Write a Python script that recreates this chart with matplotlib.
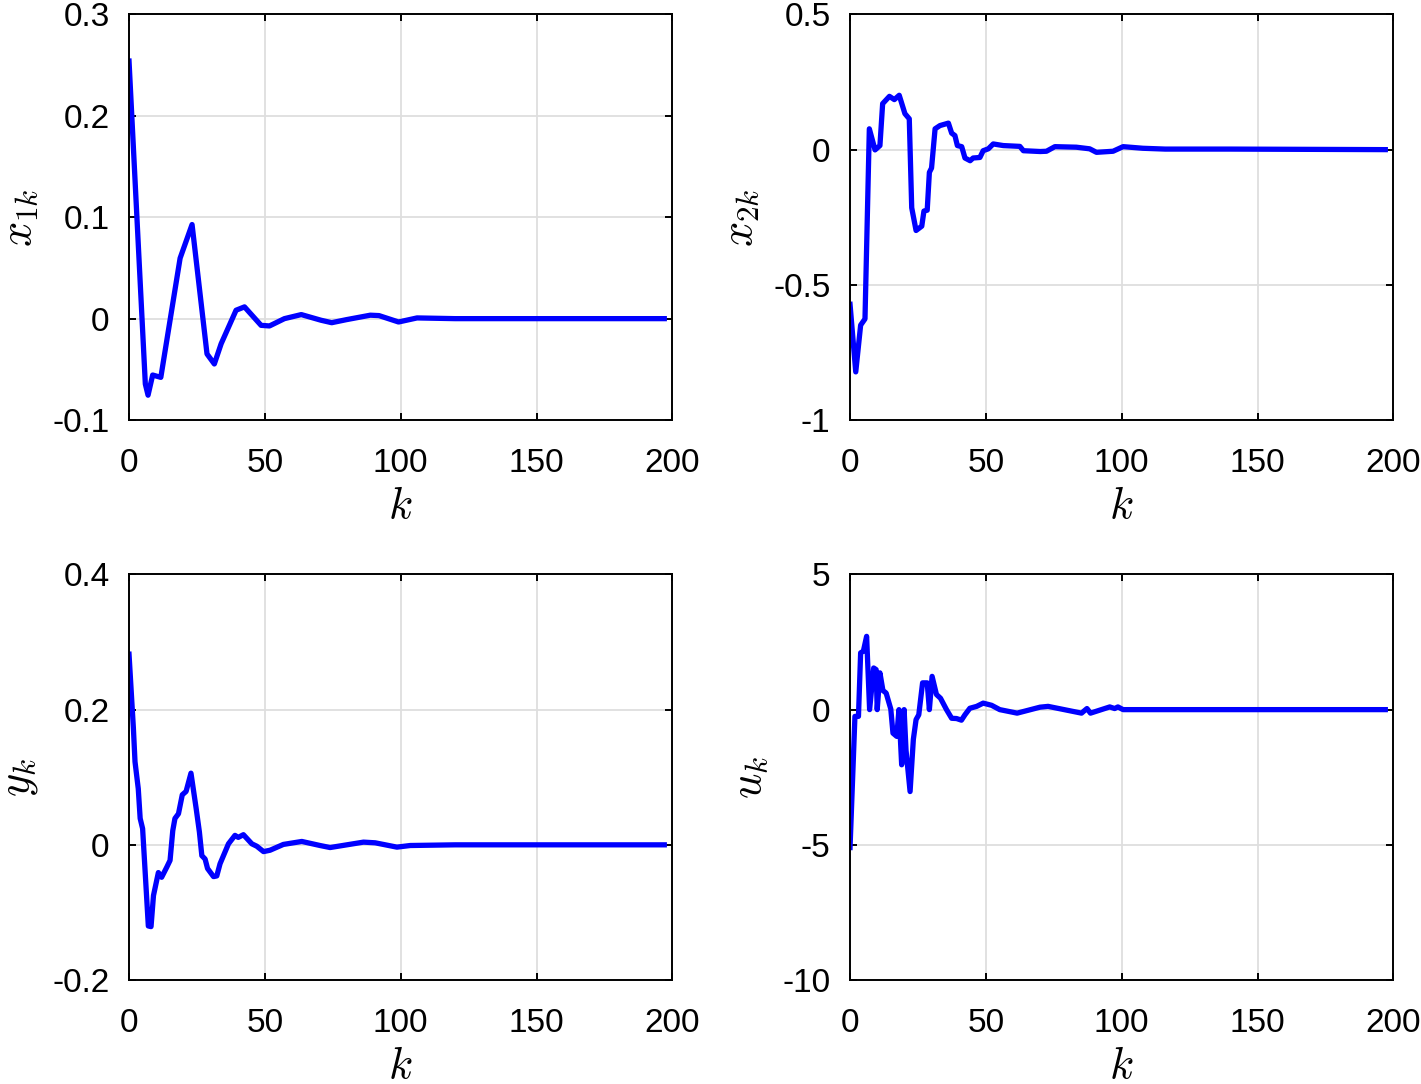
import matplotlib
matplotlib.use("Agg")
import matplotlib.pyplot as plt
import numpy as np

plt.rcParams['font.family'] = ['Liberation Sans', 'DejaVu Sans']
plt.rcParams['mathtext.fontset'] = 'cm'
plt.rcParams['axes.unicode_minus'] = False

# state x1
k_x1 = [0, 6, 7, 8.7, 11.7, 18.8, 23.2, 28.7, 31.4, 33.9, 39.4, 42.5, 48.6, 51.7,
        57.2, 63.4, 70.7, 74.6, 80, 88.8, 92, 99.2, 106, 120, 197]
x1 = [0.254, -0.0645, -0.0755, -0.0556, -0.0579, 0.0596, 0.0928, -0.0348, -0.0447,
      -0.0248, 0.0083, 0.0116, -0.0066, -0.0072, 0.0, 0.004, -0.0016, -0.004, -0.001,
      0.0034, 0.003, -0.0033, 0.0007, 0.0, 0.0]

# state x2
k_x2 = [0, 2.1, 3.9, 5.5, 7.1, 9.2, 11, 12, 14.5, 16.3, 18.1, 20.2, 21.8, 22.7, 24.3,
        26.4, 27.2, 28.4, 29.2, 30, 31.3, 33.1, 36.2, 37.4, 38.6, 39.5, 41.1, 42.3,
        44.2, 45.3, 47.8, 49, 50.9, 52.7, 56.4, 62.5, 63.8, 70, 72.3, 75.4, 83.3, 88.2,
        90.7, 96.8, 100.5, 107.8, 116, 140, 197]
x2 = [-0.572, -0.822, -0.649, -0.626, 0.077, -0.001, 0.015, 0.17, 0.197, 0.185, 0.201,
      0.133, 0.114, -0.215, -0.299, -0.283, -0.227, -0.224, -0.084, -0.068, 0.077,
      0.089, 0.098, 0.061, 0.052, 0.015, 0.011, -0.031, -0.041, -0.031, -0.029, -0.004,
      0.003, 0.021, 0.015, 0.012, -0.004, -0.007, -0.006, 0.011, 0.009, 0.003, -0.010,
      -0.006, 0.011, 0.005, 0.002, 0.002, 0.0]

# output y
k_y = [0, 1.6, 2.2, 3.4, 4.1, 5, 7.1, 8.1, 9, 10.8, 12, 13.9, 15.1, 16.1, 16.9, 18.2,
       19.6, 21, 22.8, 24.7, 25.9, 26.8, 28, 28.9, 31.1, 32.3, 33.5, 36.6, 39, 40.2,
       42.1, 45.2, 47, 49.5, 51.9, 56.8, 63.6, 70.3, 74, 86.3, 90.6, 98.6, 103.5, 120, 197]
y = [0.282, 0.173, 0.123, 0.083, 0.039, 0.024, -0.120, -0.121, -0.075, -0.041, -0.048,
     -0.033, -0.023, 0.021, 0.039, 0.046, 0.074, 0.079, 0.106, 0.054, 0.019, -0.016,
     -0.021, -0.035, -0.047, -0.046, -0.028, 0.0015, 0.014, 0.011, 0.015, 0.0015,
     -0.002, -0.010, -0.008, 0.0006, 0.005, -0.001, -0.004, 0.004, 0.003, -0.0034,
     -0.001, 0.0, 0.0]

# control input u
k_u = [0, 1.8, 3.1, 3.9, 4.9, 6.1, 7.2, 8.7, 9.6, 10.0, 11, 12.1, 13.3, 15.0, 15.8,
       17.2, 18.0, 19, 19.9, 20.6, 22.1, 23.3, 24.3, 25.3, 26.7, 28.4, 29.2, 30.2,
       31.8, 33.3, 35.5, 37.4, 39.2, 41, 42.3, 44.1, 46.6, 49, 52.1, 55.1, 61.5, 69.9,
       72.9, 85.2, 87.2, 88.5, 95.6, 97.4, 98.6, 100.5, 197]
u = [-5.1, -0.25, -0.25, 2.1, 2.16, 2.71, 0.0, 1.54, 1.48, 0.0, 1.36, 0.71, 0.61, 0.02,
     -0.87, -0.99, 0.0, -2.04, 0.0, -1.5, -3.03, -1.1, -0.37, -0.19, 0.99, 0.99, 0.0,
     1.23, 0.56, 0.42, 0.0, -0.32, -0.33, -0.39, -0.19, 0.05, 0.12, 0.24, 0.16, 0.0,
     -0.13, 0.09, 0.12, -0.13, 0.04, -0.13, 0.1, 0.04, 0.1, 0.0, 0.0]

panels = [
    (k_x1, x1, r'$x_{1k}$', (-0.1, 0.3), [-0.1, 0, 0.1, 0.2, 0.3], ['-0.1', '0', '0.1', '0.2', '0.3']),
    (k_x2, x2, r'$x_{2k}$', (-1, 0.5), [-1, -0.5, 0, 0.5], ['-1', '-0.5', '0', '0.5']),
    (k_y, y, r'$y_k$', (-0.2, 0.4), [-0.2, 0, 0.2, 0.4], ['-0.2', '0', '0.2', '0.4']),
    (k_u, u, r'$u_k$', (-10, 5), [-10, -5, 0, 5], ['-10', '-5', '0', '5']),
]

fig = plt.figure(figsize=(14.21, 10.84), dpi=100)
lefts = [0.0908, 0.5982]
bottoms = [0.6125, 0.0959]
w, h = 0.3824, 0.3742

for i, (kk, vals, lab, ylim, yt, ytl) in enumerate(panels):
    ax = fig.add_axes([lefts[i % 2], bottoms[i // 2], w, h])
    ax.plot(kk, vals, color=(0, 0, 1), lw=3.8, solid_joinstyle='round')
    ax.set_xlim(0, 200)
    ax.set_ylim(*ylim)
    ax.set_xticks([0, 50, 100, 150, 200])
    ax.set_yticks(yt)
    ax.set_yticklabels(ytl)
    ax.grid(True, color=(0.87, 0.87, 0.87), lw=1.3)
    ax.set_axisbelow(True)
    for s in ax.spines.values():
        s.set_linewidth(1.4)
    ax.tick_params(direction='in', top=True, right=True, length=5, width=1.4,
                   labelsize=24)
    ax.tick_params(axis='x', pad=20)
    ax.tick_params(axis='y', pad=14)
    ax.set_xlabel(r'$k$', fontsize=32, labelpad=5)
    ax.set_ylabel(lab, fontsize=32, labelpad=9)

fig.savefig('out.png', dpi=100)
